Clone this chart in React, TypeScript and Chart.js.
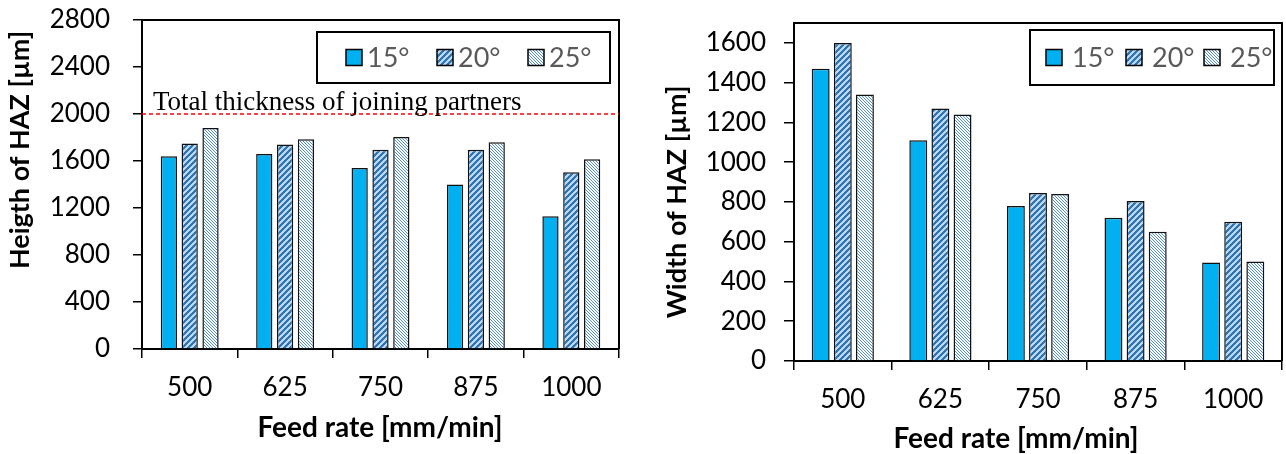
import React, { useEffect, useRef } from 'react';
import { Chart, registerables } from 'chart.js';

Chart.register(...registerables);

// ---------- data ----------
const feedRates = ['500', '625', '750', '875', '1000'];
const angleLabels = ['15°', '20°', '25°'];

const height15 = [1640, 1660, 1540, 1400, 1130];
const height20 = [1750, 1740, 1695, 1695, 1505];
const height25 = [1880, 1785, 1805, 1760, 1615];

const width15 = [1470, 1110, 780, 720, 495];
const width20 = [1600, 1270, 845, 805, 700];
const width25 = [1340, 1240, 840, 650, 500];

const heightTicks = [0, 400, 800, 1200, 1600, 2000, 2400, 2800];
const heightAxisMax = 2800;
const widthTicks = [0, 200, 400, 600, 800, 1000, 1200, 1400, 1600];
const widthAxisMax = 1700;

const thicknessLimit = 2000;
const thicknessText = 'Total thickness of joining partners';

const heightTitle = 'Heigth of HAZ [µm]';
const widthTitle = 'Width of HAZ [µm]';
const feedTitle = 'Feed rate [mm/min]';

// ---------- styles ----------
const SOLID = '#00B0F0';
const FONT = 'Lato';

function makePattern(ctx: CanvasRenderingContext2D, kind: 'wide' | 'fine') {
  const c = document.createElement('canvas');
  const n = kind === 'wide' ? 6 : 3;
  c.width = n;
  c.height = n;
  const g = c.getContext('2d')!;
  for (let y = 0; y < n; y++) {
    for (let x = 0; x < n; x++) {
      if (kind === 'wide') {
        g.fillStyle = (x + y) % 6 < 3 ? '#2E75B6' : '#BDD7EE';
      } else {
        g.fillStyle = ((x - y) % 3 + 3) % 3 === 0 ? '#4F8FD0' : '#FFFFFF';
      }
      g.fillRect(x, y, 1, 1);
    }
  }
  return ctx.createPattern(c, 'repeat')!;
}

type Decor = {
  legendBox: [number, number, number, number];
  legendItemX: number[];
  legendTextDx: number;
  yTitle: string;
  yTitlePos: [number, number];
  xTitlePos: [number, number];
  limit?: boolean;
};

function decorPlugin(cfg: Decor) {
  return {
    id: 'decor',
    afterDraw(chart: any) {
      const ctx: CanvasRenderingContext2D = chart.ctx;
      const a = chart.chartArea;
      ctx.save();
      // plot frame (top + right)
      ctx.strokeStyle = '#000';
      ctx.lineWidth = 2;
      ctx.beginPath();
      ctx.moveTo(a.left, a.top);
      ctx.lineTo(a.right, a.top);
      ctx.lineTo(a.right, a.bottom);
      ctx.stroke();

      // limit line
      if (cfg.limit) {
        const yv = chart.scales.y.getPixelForValue(thicknessLimit);
        ctx.strokeStyle = '#FF0000';
        ctx.lineWidth = 1.5;
        ctx.setLineDash([4, 3]);
        ctx.beginPath();
        ctx.moveTo(a.left, yv);
        ctx.lineTo(a.right, yv);
        ctx.stroke();
        ctx.setLineDash([]);
        ctx.fillStyle = '#000';
        ctx.font = '27px "Liberation Serif", "Times New Roman", serif';
        ctx.textAlign = 'left';
        ctx.textBaseline = 'alphabetic';
        ctx.fillText(thicknessText, a.left + 11, yv - 4);
      }

      // legend
      const [lx, ly, lw, lh] = cfg.legendBox;
      ctx.fillStyle = '#fff';
      ctx.fillRect(lx, ly, lw, lh);
      ctx.strokeStyle = '#000';
      ctx.lineWidth = 2;
      ctx.strokeRect(lx, ly, lw, lh);
      const cy = ly + lh / 2;
      chart.data.datasets.forEach((ds: any, i: number) => {
        const sx = cfg.legendItemX[i];
        ctx.fillStyle = ds.backgroundColor;
        ctx.fillRect(sx, cy - 8, 16, 16);
        ctx.strokeStyle = '#000';
        ctx.lineWidth = 1.5;
        ctx.strokeRect(sx, cy - 8, 16, 16);
        ctx.fillStyle = '#595959';
        ctx.font = `27px ${FONT}`;
        ctx.textAlign = 'left';
        ctx.textBaseline = 'middle';
        ctx.fillText(ds.label, sx + cfg.legendTextDx, cy + 1);
      });

      // axis titles
      ctx.fillStyle = '#000';
      ctx.textAlign = 'center';
      ctx.textBaseline = 'middle';
      ctx.font = `bold 28px ${FONT}`;
      ctx.fillText(feedTitle, cfg.xTitlePos[0], cfg.xTitlePos[1]);
      ctx.font = `bold 27px ${FONT}`;
      ctx.translate(cfg.yTitlePos[0], cfg.yTitlePos[1]);
      ctx.rotate(-Math.PI / 2);
      ctx.fillText(cfg.yTitle, 0, 0);
      ctx.restore();
    },
  };
}

function zeroPad(s: any) {
  s.paddingTop = 0;
  s.paddingBottom = 0;
  s.paddingLeft = 0;
  s.paddingRight = 0;
}

function buildConfig(
  ctx: CanvasRenderingContext2D,
  series: number[][],
  yMax: number,
  yTicks: number[],
  lay: {
    yWidth: number;
    xHeight: number;
    padTop: number;
    padRight: number;
    yTickLen: number;
    yPad: number;
    xPad: number;
    catPct: number;
    barPct: number;
  },
  decor: Decor
): any {
  const fills = [SOLID, makePattern(ctx, 'wide'), makePattern(ctx, 'fine')];
  return {
    type: 'bar',
    data: {
      labels: feedRates,
      datasets: series.map((s, i) => ({
        label: angleLabels[i],
        data: s,
        backgroundColor: fills[i],
        borderColor: '#111',
        borderWidth: 1.5,
        borderSkipped: 'bottom',
        categoryPercentage: lay.catPct,
        barPercentage: lay.barPct,
      })),
    },
    options: {
      animation: false,
      responsive: false,
      devicePixelRatio: 1,
      layout: { padding: { left: 0, top: lay.padTop, right: lay.padRight, bottom: 0 } },
      plugins: { legend: { display: false }, tooltip: { enabled: false } },
      scales: {
        x: {
          offset: true,
          grid: {
            offset: true,
            drawOnChartArea: false,
            drawTicks: true,
            tickLength: 9,
            color: '#000',
            lineWidth: 1.5,
          },
          border: { display: true, color: '#000', width: 2 },
          ticks: { color: '#000', font: { family: FONT, size: 26 }, padding: lay.xPad, maxRotation: 0 },
          afterFit: (s: any) => {
            s.height = lay.xHeight;
            zeroPad(s);
          },
        },
        y: {
          min: 0,
          max: yMax,
          ticks: {
            color: '#000',
            font: { family: FONT, size: 26 },
            padding: lay.yPad,
            autoSkip: false,
            callback: (v: any) => String(v),
          },
          afterBuildTicks: (s: any) => {
            s.ticks = yTicks.map((v) => ({ value: v }));
          },
          grid: {
            drawOnChartArea: false,
            drawTicks: true,
            tickLength: lay.yTickLen,
            color: '#000',
            lineWidth: 1.5,
          },
          border: { display: true, color: '#000', width: 2 },
          afterFit: (s: any) => {
            s.width = lay.yWidth;
            zeroPad(s);
          },
        },
      },
    },
    plugins: [decorPlugin(decor)],
  };
}

function ChartCanvas(props: { w: number; h: number; left: number; make: (ctx: CanvasRenderingContext2D) => any }) {
  const ref = useRef<HTMLCanvasElement>(null);
  useEffect(() => {
    const cv = ref.current!;
    const ctx = cv.getContext('2d')!;
    const chart = new Chart(ctx, props.make(ctx));
    return () => chart.destroy();
  }, []);
  return (
    <canvas
      ref={ref}
      width={props.w}
      height={props.h}
      style={{ position: 'absolute', left: props.left, top: 0, width: props.w, height: props.h }}
    />
  );
}

export default function App() {
  Chart.defaults.font.family = FONT;
  return (
    <div style={{ position: 'absolute', left: 0, top: 0, width: 1286, height: 454, background: '#fff' }}>
      <ChartCanvas
        w={640}
        h={454}
        left={0}
        make={(ctx) =>
          buildConfig(
            ctx,
            [height15, height20, height25],
            heightAxisMax,
            heightTicks,
            {
              yWidth: 142,
              xHeight: 105,
              padTop: 20,
              padRight: 21,
              yTickLen: 9,
              yPad: 23,
              xPad: 14,
              catPct: 0.655,
              barPct: 0.78,
            },
            {
              legendBox: [317, 32, 293, 51],
              legendItemX: [346, 437, 528],
              legendTextDx: 21,
              yTitle: heightTitle,
              yTitlePos: [20, 150],
              xTitlePos: [380, 428],
              limit: true,
            }
          )
        }
      />
      <ChartCanvas
        w={646}
        h={454}
        left={640}
        make={(ctx) =>
          buildConfig(
            ctx,
            [width15, width20, width25],
            widthAxisMax,
            widthTicks,
            {
              yWidth: 154,
              xHeight: 93,
              padTop: 23,
              padRight: 4,
              yTickLen: 10,
              yPad: 18,
              xPad: 14,
              catPct: 0.68,
              barPct: 0.81,
            },
            {
              legendBox: [390, 30, 244, 55],
              legendItemX: [406, 486, 564],
              legendTextDx: 26,
              yTitle: widthTitle,
              yTitlePos: [37, 202],
              xTitlePos: [376, 439],
            }
          )
        }
      />
    </div>
  );
}
